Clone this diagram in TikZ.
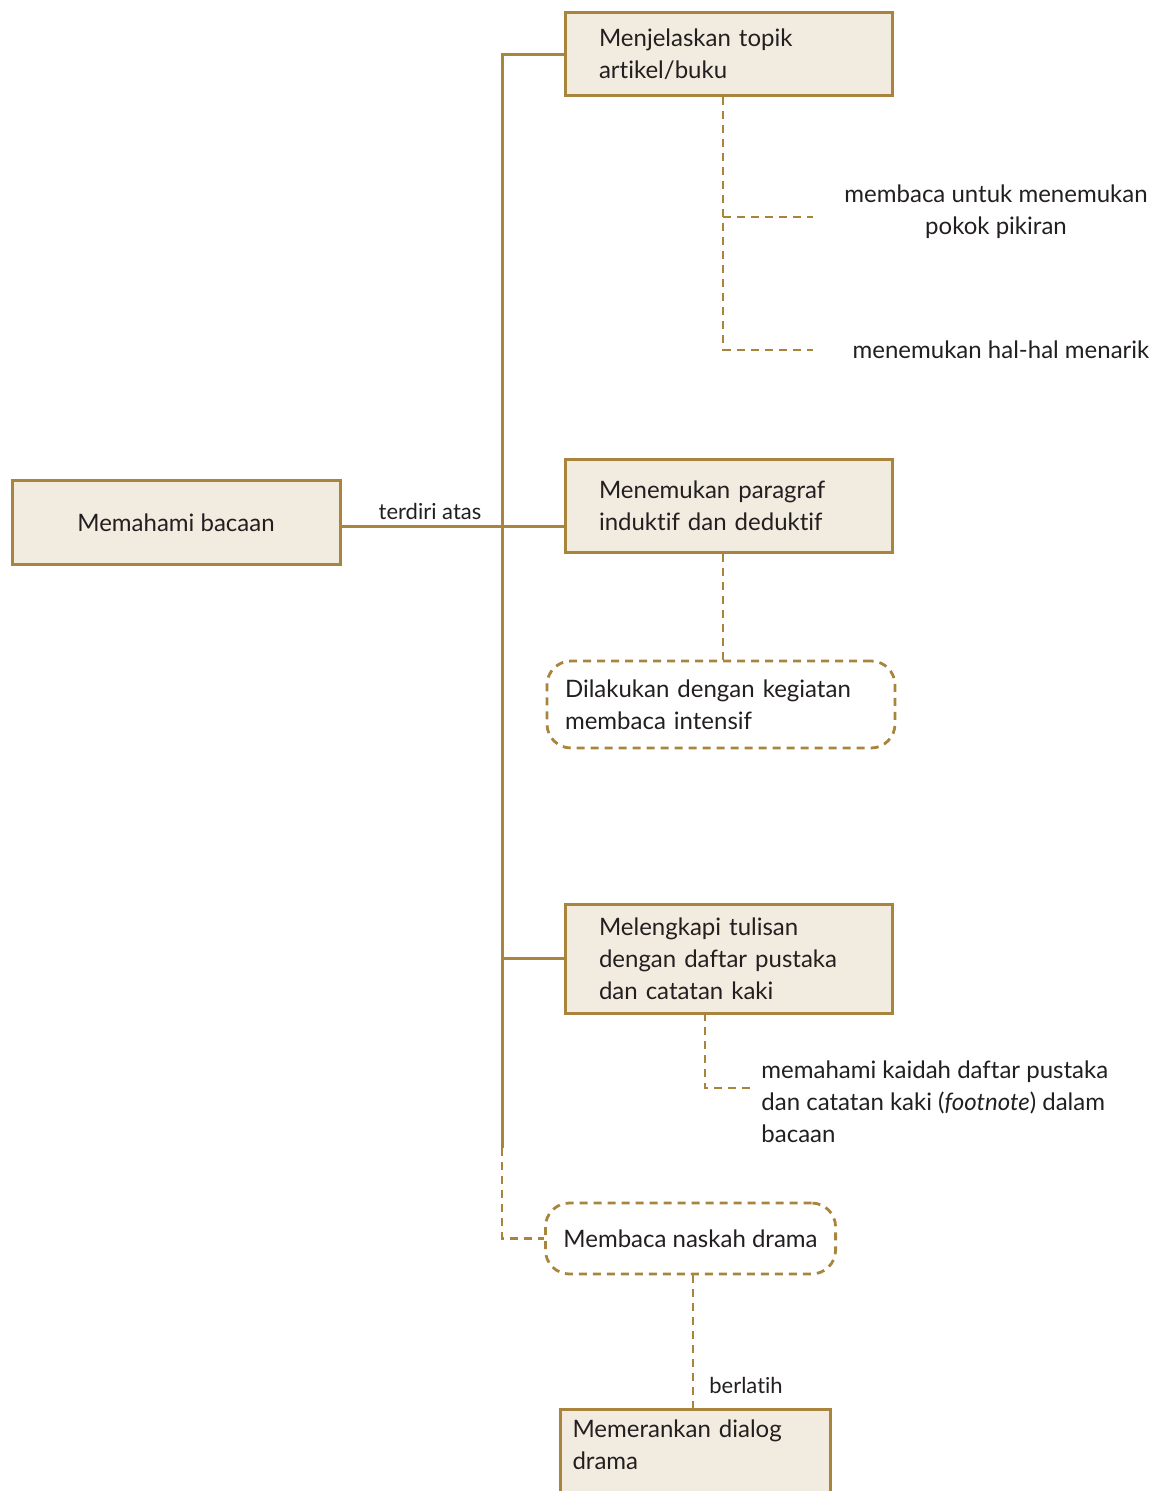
\documentclass[tikz,border=0pt]{standalone}
\usepackage{fontspec}
\setmainfont{Lato}[Ligatures=NoCommon]
\usetikzlibrary{positioning,shapes,arrows}
\definecolor{emas}{HTML}{A8843C}
\definecolor{krem}{HTML}{F2ECE0}
\definecolor{tinta}{HTML}{231F20}
\tikzstyle{kotak} = [rectangle, draw=emas, fill=krem, line width=1.5pt, text=tinta, align=left, inner xsep=17pt]
\tikzstyle{awan} = [rectangle, rounded corners=12pt, draw=emas, line width=1.4pt, dash pattern=on 4pt off 3pt, text=tinta, align=left, inner xsep=9pt]
\tikzstyle{garis} = [draw=emas, line width=1.5pt]
\tikzstyle{putus} = [draw=emas, line width=1.4pt, dash pattern=on 4pt off 3pt]
\tikzstyle{teks} = [text=tinta, inner sep=0pt]

\begin{document}
\begin{tikzpicture}[x=0.5pt, y=-0.5pt, every node/.style={font=\fontsize{12}{16}\selectfont}]
                    \useasboundingbox (0,0) rectangle (1159,1491);
                    \clip (0,0) rectangle (1159,1491);
                    \node[kotak, align=center, minimum width=164pt, minimum height=41.5pt] (utama) at (176,522.5) {Memahami bacaan};
                    \node[kotak, text width=129.5pt, minimum height=41.5pt] (topik) at (728.5,54.5) {Menjelaskan topik\\artikel/buku};
                    \node[kotak, text width=129.5pt, minimum height=46pt] (paragraf) at (728.5,506) {Menemukan paragraf\\induktif dan deduktif};
                    \node[kotak, text width=129.5pt, minimum height=54.5pt] (pustaka) at (728.5,958.5) {Melengkapi tulisan\\dengan daftar pustaka\\dan catatan kaki};
                    \node[awan, text width=156pt, minimum height=43.5pt] (intensif) at (721,704.5) {Dilakukan dengan kegiatan\\membaca intensif};
                    \node[awan, minimum width=143.5pt, minimum height=35.5pt] (drama) at (690.5,1238.5) {Membaca naskah drama};
                    \node[kotak, anchor=north west, inner xsep=6pt, inner ysep=5pt, text width=123pt, text depth=40pt] (dialog) at (559,1408) {Memerankan dialog\\drama};
                    \node[teks, align=center] (pokok) at (996,212) {membaca untuk menemukan\\pokok pikiran};
                    \node[teks] (menarik) at (1001,350) {menemukan hal-hal menarik};
                    \node[teks, anchor=north west, align=left] (kaidah) at (761,1060) {memahami kaidah daftar pustaka\\dan catatan kaki (\textit{footnote}) dalam\\bacaan};
                    \node[teks, font=\fontsize{11}{13}\selectfont] (terdiri) at (430,511) {terdiri atas};
                    \node[teks, font=\fontsize{11}{13}\selectfont] (berlatih) at (746,1385) {berlatih};
                    \coordinate (pisah) at (502,1148);
                    \coordinate (ujung1) at (813,217);
                    \coordinate (ujung2) at (813,350);
                    \coordinate (turun) at (705,1013);
                    \coordinate (ujung3) at (750,1088);
                    \draw[garis] (topik.west) -| (pisah);
                    \draw[garis] ([yshift=-1.75pt]utama.east) -- ([yshift=-1.75pt]utama.east -| paragraf.west);
                    \draw[garis] (pustaka.west) -- (pustaka.west -| pisah);
                    \draw[putus] (pisah) |- (drama.west);
                    \draw[putus] ([xshift=-2.75pt]topik.south) |- (ujung2);
                    \draw[putus] ([xshift=-2.75pt]topik.south |- ujung1) -- (ujung1);
                    \draw[putus] ([xshift=-2.75pt]paragraf.south) -- ([xshift=-2.75pt]paragraf.south |- intensif.north);
                    \draw[putus] (turun) |- (ujung3);
                    \draw[putus] ([xshift=1.25pt]drama.south) -- ([xshift=1.25pt]drama.south |- dialog.north);
                \end{tikzpicture}
\end{document}
